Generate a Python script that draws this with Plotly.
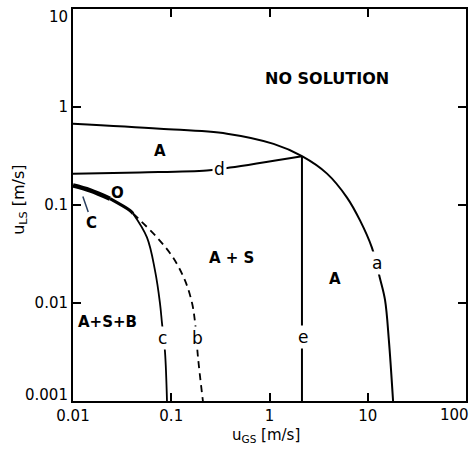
import numpy as np
import plotly.graph_objects as go

# ---- data ----
a_x = [0.01, 0.0768, 0.369, 1.1, 2.14, 3.85, 6.15, 8.34, 11.0, 13.3, 15.0, 16.4, 18.1]
a_y = [0.676, 0.601, 0.534, 0.42, 0.315, 0.209, 0.119, 0.0696, 0.0369, 0.0179, 0.0107, 0.00418, 0.001]
d_x = [0.01, 0.048, 0.23, 0.396, 2.14]
d_y = [0.209, 0.215, 0.225, 0.241, 0.315]
e_x = [2.14, 2.14]
e_y = [0.315, 0.001]
o_x = [0.01, 0.0149, 0.0238, 0.038, 0.0408]
o_y = [0.158, 0.141, 0.116, 0.0879, 0.0819]
c_x = [0.0408, 0.0566, 0.0683, 0.0768, 0.0805, 0.0864, 0.0905]
c_y = [0.0819, 0.0467, 0.0215, 0.00993, 0.00622, 0.00315, 0.001]
b_x = [0.0408, 0.0716, 0.104, 0.138, 0.163, 0.175, 0.187, 0.21]
b_y = [0.0819, 0.0467, 0.0292, 0.017, 0.00993, 0.00622, 0.00281, 0.001]

x_ticks = [0.01, 0.1, 1, 10, 100]
x_ticktext = ["0.01", "0.1", "1", "10", "100"]
y_ticks = [0.001, 0.01, 0.1, 1, 10]
y_ticktext = ["0.001", "0.01", "0.1", "1", "10"]

region_labels = ["NO SOLUTION", "A", "A + S", "A", "A+S+B", "O"]
region_x = [3.85, 0.077, 0.415, 4.64, 0.0225, 0.0287]
region_y = [1.94, 0.359, 0.0285, 0.0175, 0.0064, 0.134]

curve_labels = ["a", "b", "c", "d", "e"]
curve_lx = [12.4, 0.187, 0.0824, 0.31, 2.18]
curve_ly = [0.0254, 0.00437, 0.00437, 0.232, 0.00448]

FONT = "DejaVu Sans"
fig = go.Figure()

def line(x, y, width=2, dash="solid", shape="spline"):
    fig.add_trace(go.Scatter(x=x, y=y, mode="lines", showlegend=False, hoverinfo="skip",
                             line=dict(color="black", width=width, dash=dash, shape=shape, smoothing=1.0)))

line(a_x, a_y)
line(d_x, d_y)
line(e_x, e_y, shape="linear")
line(c_x, c_y, width=1.8)
line(b_x, b_y, width=1.8, dash="7px,5px")
line(o_x[:3], o_y[:3], width=4.5)
line(o_x[2:], o_y[2:], width=3.2)

for t, x, y in zip(region_labels, region_x, region_y):
    fig.add_annotation(x=np.log10(x), y=np.log10(y), text=t, showarrow=False,
                       font=dict(family=FONT, size=16 if t == "NO SOLUTION" else 15, color="black", weight="bold"))

for t, x, y in zip(curve_labels, curve_lx, curve_ly):
    fig.add_annotation(x=np.log10(x), y=np.log10(y), text=t, showarrow=False, bgcolor="white",
                       borderpad=1,
                       font=dict(family=FONT, size=17, color="black"))

# C label with pointer to the thick curve
fig.add_annotation(x=np.log10(0.0126), y=np.log10(0.122), text="C", showarrow=True,
                   arrowhead=0, arrowwidth=1.5, ax=9, ay=26, standoff=0,
                   font=dict(family=FONT, size=15, color="black", weight="bold"))

# axis titles
fig.add_annotation(xref="paper", yref="paper", x=0.491, y=-0.088, xanchor="center", yanchor="middle",
                   text="u<sub>GS</sub> [m/s]",
                   showarrow=False, font=dict(family=FONT, size=15, color="black"))
fig.add_annotation(xref="paper", yref="paper", x=-0.135, y=0.513, xanchor="center", yanchor="middle",
                   text="u<sub>LS</sub> [m/s]",
                   textangle=-90, showarrow=False, font=dict(family=FONT, size=16, color="black"))

# end labels that sit inside the frame in the reference
y_shown = [t if t not in ("10", "0.001") else "" for t in y_ticktext]
x_shown = [t if t != "100" else "" for t in x_ticktext]
for t, v, shift in [("10", y_ticks[-1], -8), ("0.001", y_ticks[0], 6)]:
    fig.add_annotation(xref="paper", x=0, y=np.log10(v), text=t, showarrow=False,
                       xanchor="right", yanchor="middle", xshift=-3, yshift=shift,
                       font=dict(family=FONT, size=15, color="black"))
fig.add_annotation(x=np.log10(x_ticks[-1]), yref="paper", y=0, text=x_ticktext[-1], showarrow=False,
                   xanchor="right", yanchor="top", xshift=5, yshift=-3,
                   font=dict(family=FONT, size=15, color="black"))

axis_common = dict(type="log", showgrid=False, zeroline=False, showline=True, linecolor="black",
                   linewidth=2, mirror="ticks", ticks="inside", ticklen=8, tickwidth=1.5,
                   tickcolor="black", automargin=False,
                   tickfont=dict(family=FONT, size=15, color="black"))
fig.update_xaxes(range=[-2, 2], tickvals=x_ticks, ticktext=x_shown, **axis_common)
fig.update_yaxes(range=[-3, 1], tickvals=y_ticks, ticktext=y_shown, **axis_common)

fig.update_layout(width=472, height=454, margin=dict(l=73, r=6, t=9, b=53),
                  plot_bgcolor="white", paper_bgcolor="white", showlegend=False)

fig.write_html("out.html", config={"displayModeBar": False},
               post_script="document.body.style.margin='0';document.body.style.overflow='hidden';")
